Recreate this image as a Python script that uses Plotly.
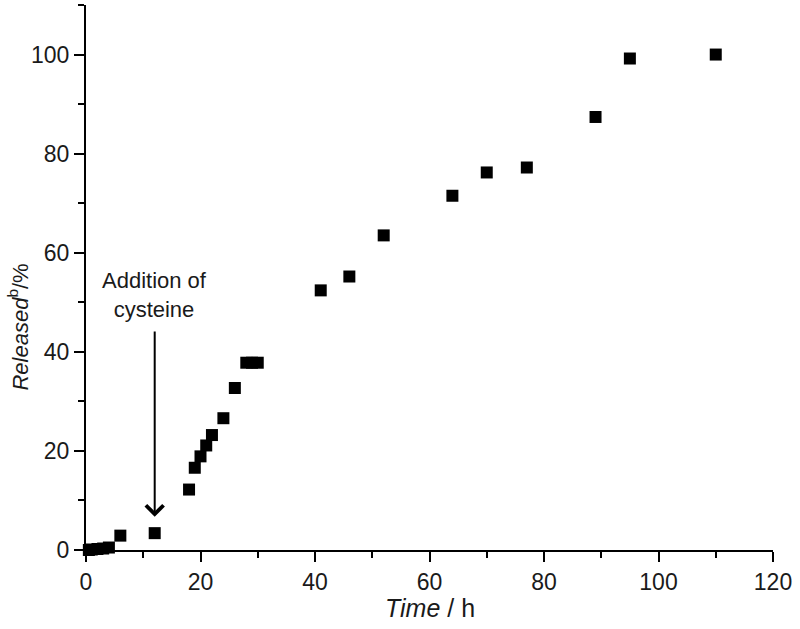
import plotly.graph_objects as go

time_h = [0.5, 1, 2, 3, 4, 6, 12, 18, 19, 20, 21, 22, 24, 26, 28, 29, 30,
          41, 46, 52, 64, 70, 77, 89, 95, 110]
released = [0.0, 0.1, 0.2, 0.3, 0.5, 2.9, 3.4, 12.2, 16.6, 18.9, 21.1, 23.2, 26.6, 32.7,
            37.8, 37.8, 37.8, 52.4, 55.2, 63.5, 71.5, 76.2, 77.2, 87.4, 99.2, 100.0]

x_ticks = [0, 20, 40, 60, 80, 100, 120]
y_ticks = [0, 20, 40, 60, 80, 100]

arrow_x = 12
arrow_tip_y = 6.7
arrow_tail_y = 44.4
label_y = 51.5

font_family = "Liberation Sans, Arial, Helvetica, sans-serif"
text_color = "#1a1a1a"

fig = go.Figure()
fig.add_trace(go.Scatter(
    x=time_h, y=released, mode="markers",
    marker=dict(symbol="square", size=12, color="black", line=dict(width=0)),
    cliponaxis=False, showlegend=False,
))

axis_common = dict(
    showgrid=False, zeroline=False, showline=True, linecolor="black", linewidth=2,
    ticks="outside", ticklen=10, tickwidth=2, tickcolor="black",
    tickfont=dict(family=font_family, size=23, color=text_color),
    automargin=False,
)

fig.update_xaxes(
    range=[0, 120], tickvals=x_ticks,
    minor=dict(dtick=10, ticks="outside", ticklen=6, tickwidth=2, tickcolor="black"),
    **axis_common,
)
fig.update_yaxes(
    range=[0, 110], tickvals=y_ticks,
    minor=dict(dtick=10, ticks="outside", ticklen=6, tickwidth=2, tickcolor="black"),
    **axis_common,
)

# axis titles
fig.add_annotation(
    x=0.5, y=-0.106, xref="paper", yref="paper", xanchor="center", yanchor="middle",
    text="<i>Time</i> / h", showarrow=False,
    font=dict(family=font_family, size=25, color=text_color),
)
fig.add_annotation(
    x=-0.099, y=0.41, xref="paper", yref="paper", xanchor="center", yanchor="middle",
    textangle=-90,
    text="<i>Released</i><sup>b</sup>/%", showarrow=False,
    font=dict(family=font_family, size=22, color=text_color),
)

fig.add_annotation(
    x=arrow_x, y=arrow_tip_y, ax=arrow_x, ay=arrow_tail_y,
    xref="x", yref="y", axref="x", ayref="y",
    text="", showarrow=True, arrowhead=4, arrowsize=1.7, arrowwidth=2, arrowcolor="black",
)
fig.add_annotation(
    x=arrow_x, y=label_y, xref="x", yref="y",
    text="Addition of<br>cysteine", showarrow=False,
    font=dict(family=font_family, size=22, color=text_color),
)

fig.update_layout(
    width=800, height=629,
    margin=dict(l=86, r=27, t=5, b=79),
    paper_bgcolor="white", plot_bgcolor="white",
)

fig.write_html("out.html", config={"displayModeBar": False},
               post_script="document.body.style.margin='0';")
